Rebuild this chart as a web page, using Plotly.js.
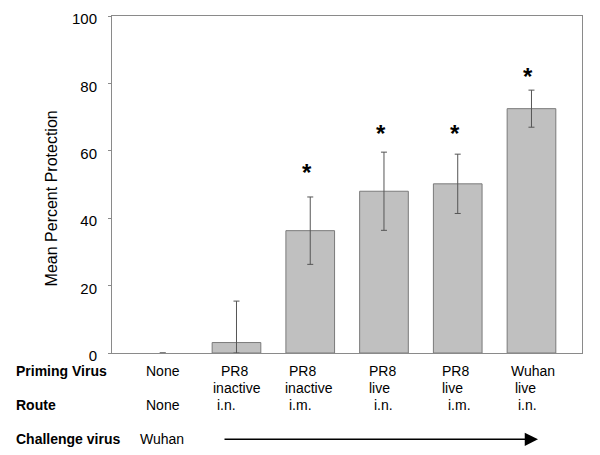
<!DOCTYPE html>
<html>
<head>
<meta charset="utf-8">
<script src="https://cdn.plot.ly/plotly-3.0.1.min.js"></script>
<style>html,body{margin:0;padding:0;background:#fff;}#chart{width:600px;height:455px;}</style>
</head>
<body>
<div id="chart"></div>
<script>
// ---- data ----
var groups = [0, 1, 2, 3, 4, 5];
var protection = [0, 3.1, 36.3, 48.0, 50.2, 72.5];
var errPlus = [null, 12.3, 10.0, 11.6, 8.8, 5.5];
var errMinus = [null, 3.1, 10.0, 11.6, 8.8, 5.5];
var significant = [false, false, true, true, true, true];
var starLevel = [null, null, 54.3, 65.6, 65.6, 82.7];
var primingLine1 = ["None", "PR8", "PR8", "PR8", "PR8", "Wuhan"];
var primingLine2 = ["", "inactive", "inactive", "live", "live", "live"];
var routes = ["None", "i.n.", "i.m.", "i.n.", "i.m.", "i.n."];
var yTicks = [0, 20, 40, 60, 80, 100];
var challengeVirus = "Wuhan";

// ---- layout helpers (pixel positions of the table) ----
var L = 112, R = 18, T = 16, B = 102;
var W = 600 - L - R, H = 455 - T - B;
function px(x) { return (x - L) / W; }
function py(y) { return (455 - B - y) / H; }
var FONT = "Arial, 'Liberation Sans', sans-serif";

var line1X = [144, 219, 287, 367, 440, 509];
var line2X = [null, 211, 283, 367, 440, 513];
var routeX = [144, 215, 287, 372, 446, 516];
var ROW1 = 370.7, ROW2 = 388, ROW_ROUTE = 405, ROW_CH = 439.3;

var ann = [];
function txt(s, x, y, bold) {
  ann.push({text: bold ? "<b>" + s + "</b>" : s, xref: "paper", yref: "paper",
    x: px(x), y: py(y), xanchor: "left", yanchor: "middle", showarrow: false,
    font: {family: FONT, size: 14, color: "#000"}});
}
txt("Priming Virus", 14, ROW1, true);
txt("Route", 14, ROW_ROUTE, true);
txt("Challenge virus", 14, ROW_CH, true);
txt(challengeVirus, 138, ROW_CH, false);
for (var i = 0; i < groups.length; i++) {
  txt(primingLine1[i], line1X[i], ROW1, false);
  if (primingLine2[i]) txt(primingLine2[i], line2X[i], ROW2, false);
  txt(routes[i], routeX[i], ROW_ROUTE, false);
  if (significant[i]) {
    ann.push({text: "<b>*</b>", xref: "x", yref: "y", x: groups[i], y: starLevel[i],
      xshift: -3, yshift: -2, xanchor: "center", yanchor: "middle", showarrow: false,
      font: {family: FONT, size: 24, color: "#000"}});
  }
}
// y-axis title
ann.push({text: "Mean Percent Protection", xref: "paper", yref: "paper",
  x: px(51), y: py(198.4), xanchor: "center", yanchor: "middle", textangle: -90,
  showarrow: false, font: {family: FONT, size: 16, color: "#000"}});
// arrow
ann.push({text: "", xref: "paper", yref: "paper", x: px(538), y: py(ROW_CH),
  axref: "pixel", ayref: "pixel", ax: -(538 - 223), ay: 0, showarrow: true,
  arrowhead: 2, arrowsize: 1.77, arrowwidth: 1.5, arrowcolor: "#000"});

var trace = {
  type: "bar", x: groups, y: protection, width: 0.66,
  marker: {color: "#c0c0c0", line: {color: "#7a7a7a", width: protection.map(function (v) { return v > 0 ? 1 : 0; })}},
  error_y: {type: "data", symmetric: false, array: errPlus, arrayminus: errMinus,
    color: "#555", thickness: 1, width: 3},
  hoverinfo: "none"
};

var layout = {
  width: 600, height: 455,
  margin: {l: L, r: R, t: T, b: B, pad: 0},
  paper_bgcolor: "#fff", plot_bgcolor: "#fff",
  showlegend: false,
  xaxis: {range: [-0.688, 5.685], showticklabels: false, ticks: "", showgrid: false,
    zeroline: false, showline: true, linecolor: "#8a8a8a", linewidth: 1, mirror: true, fixedrange: true},
  yaxis: {range: [0, 100], tickvals: yTicks, ticktext: yTicks.map(String), ticks: "outside",
    ticklen: 3, tickcolor: "#8a8a8a", showgrid: false, zeroline: false, showline: true,
    linecolor: "#8a8a8a", linewidth: 1, mirror: true, ticklabelstandoff: 8, ticklabelshift: 3,
    tickfont: {family: FONT, size: 15, color: "#000"}, fixedrange: true},
  annotations: ann
};

Plotly.newPlot("chart", [trace], layout, {staticPlot: true, displayModeBar: false});
</script>
</body>
</html>
